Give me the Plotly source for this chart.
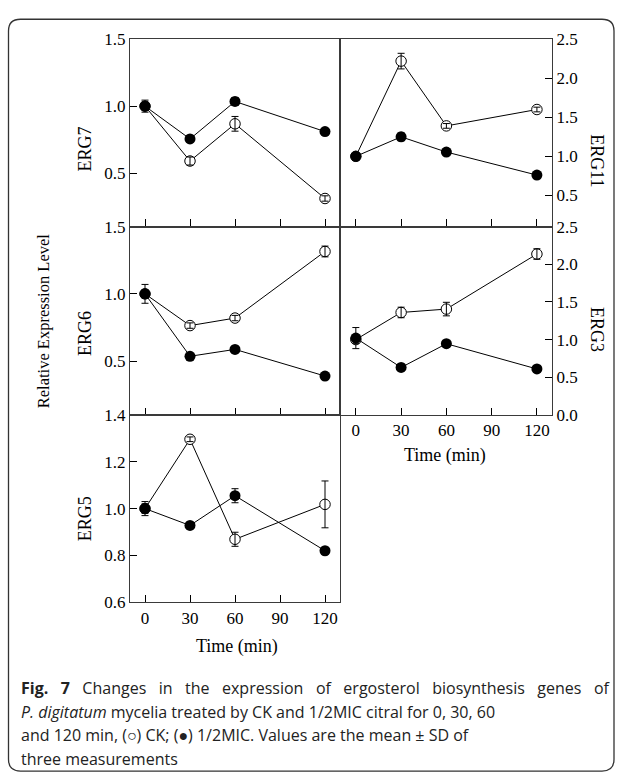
import plotly.graph_objects as go

W, H = 619, 784

time_min = [0, 30, 60, 120]
x_tickvals = [0, 30, 60, 90, 120]

# ERG7 (top-left)
erg7_ck = [1.00, 0.59, 0.868, 0.31]
erg7_ck_sd = [0.03, 0.03, 0.055, 0.02]
erg7_mic = [1.00, 0.755, 1.035, 0.81]
erg7_mic_sd = [0.045, 0.01, 0.03, 0.01]

# ERG11 (top-right)
erg11_ck = [1.00, 2.22, 1.39, 1.60]
erg11_ck_sd = [0.02, 0.10, 0.03, 0.03]
erg11_mic = [1.00, 1.25, 1.055, 0.76]
erg11_mic_sd = [0.02, 0.05, 0.02, 0.02]

# ERG6 (middle-left)
erg6_ck = [1.00, 0.764, 0.82, 1.315]
erg6_ck_sd = [0.03, 0.02, 0.02, 0.04]
erg6_mic = [1.00, 0.536, 0.587, 0.389]
erg6_mic_sd = [0.07, 0.02, 0.01, 0.01]

# ERG3 (middle-right)
erg3_ck = [1.00, 1.36, 1.405, 2.136]
erg3_ck_sd = [0.05, 0.07, 0.09, 0.07]
erg3_mic = [1.02, 0.63, 0.945, 0.61]
erg3_mic_sd = [0.14, 0.02, 0.02, 0.02]

# ERG5 (bottom-left)
erg5_ck = [1.00, 1.296, 0.869, 1.018]
erg5_ck_sd = [0.02, 0.01, 0.03, 0.10]
erg5_mic = [1.00, 0.928, 1.055, 0.82]
erg5_mic_sd = [0.03, 0.005, 0.03, 0.005]

gene_names = ["ERG7", "ERG11", "ERG6", "ERG3", "ERG5"]
erg7_ticks = [0.5, 1.0, 1.5]
erg11_ticks = [0.5, 1.0, 1.5, 2.0, 2.5]
erg6_ticks = [0.5, 1.0, 1.5]
erg3_ticks = [0.0, 0.5, 1.0, 1.5, 2.0, 2.5]
erg5_ticks = [0.6, 0.8, 1.0, 1.2, 1.4]

y_label = "Relative Expression Level"
x_label = "Time (min)"
SP = " \u00a0\u00a0"
caption_lines = [
    SP.join(["<b>Fig.", "7</b>", "Changes", "in", "the", "expression", "of",
             "ergosterol", "biosynthesis", "genes", "of"]),
    "<i>P. digitatum</i> mycelia treated by CK and 1/2MIC citral for 0, 30, 60",
    "and 120 min, (○) CK; (●) 1/2MIC. Values are the mean ± SD of",
    "three measurements",
]

def px(x):
    return x / W

def py(y):
    return 1 - y / H

LEFT = [px(130), px(340)]
RIGHT = [px(340), px(552)]
ROW1 = [py(223), py(31)]
ROW2 = [py(416), py(223)]
ROW3 = [py(608), py(416)]

FONT = "Liberation Serif"
fig = go.Figure()

panels = [
    ("x", "y", erg7_ck, erg7_ck_sd, erg7_mic, erg7_mic_sd),
    ("x2", "y2", erg11_ck, erg11_ck_sd, erg11_mic, erg11_mic_sd),
    ("x3", "y3", erg6_ck, erg6_ck_sd, erg6_mic, erg6_mic_sd),
    ("x4", "y4", erg3_ck, erg3_ck_sd, erg3_mic, erg3_mic_sd),
    ("x5", "y5", erg5_ck, erg5_ck_sd, erg5_mic, erg5_mic_sd),
]

for xa, ya, ck, cksd, mic, micsd in panels:
    # CK: open circles
    fig.add_trace(go.Scatter(
        x=time_min, y=ck, xaxis=xa, yaxis=ya, mode="lines+markers",
        line=dict(color="black", width=1),
        marker=dict(symbol="circle", size=10.5, color="white", line=dict(color="black", width=1)),
        showlegend=False, hoverinfo="skip"))
    # CK error bars drawn over the open markers
    fig.add_trace(go.Scatter(
        x=time_min, y=ck, xaxis=xa, yaxis=ya, mode="markers",
        marker=dict(size=1, color="rgba(0,0,0,0)"),
        error_y=dict(type="data", array=cksd, color="black", thickness=1, width=3.5),
        showlegend=False, hoverinfo="skip"))
    # 1/2MIC: filled circles
    fig.add_trace(go.Scatter(
        x=time_min, y=mic, xaxis=xa, yaxis=ya, mode="lines+markers",
        line=dict(color="black", width=1),
        marker=dict(symbol="circle", size=11, color="black", line=dict(color="black", width=0)),
        error_y=dict(type="data", array=micsd, color="black", thickness=1, width=3.5),
        showlegend=False, hoverinfo="skip"))

tickfont = dict(family=FONT, size=17, color="black")
LINE_C = "#3a3a3a"

def xax(domain, anchor, labels, rng):
    return dict(domain=domain, anchor=anchor, range=rng, tickvals=x_tickvals,
                ticktext=[str(v) for v in x_tickvals], showticklabels=labels,
                ticks="inside", ticklen=7, tickcolor="black", tickwidth=1,
                showline=True, linecolor=LINE_C, linewidth=1.2, mirror=True,
                showgrid=False, zeroline=False, tickfont=tickfont)

def yax(domain, anchor, ticks, rng, side="left"):
    return dict(domain=domain, anchor=anchor, range=rng, tickvals=ticks,
                ticktext=[f"{v:.1f}" for v in ticks], side=side,
                ticks="inside", ticklen=7, tickcolor="black", tickwidth=1,
                showline=True, linecolor=LINE_C, linewidth=1.2, mirror=True,
                showgrid=False, zeroline=False, tickfont=tickfont)

fig.update_layout(
    width=W, height=H, margin=dict(l=0, r=0, t=0, b=0),
    paper_bgcolor="white", plot_bgcolor="white",
    xaxis=xax(LEFT, "y", False, [-10, 130]),
    yaxis=yax(ROW1, "x", erg7_ticks, [0.1, 1.5]),
    xaxis2=xax(RIGHT, "y2", False, [-10.5, 130]),
    yaxis2=yax(ROW1, "x2", erg11_ticks, [0.1, 2.5], side="right"),
    xaxis3=xax(LEFT, "y3", False, [-10, 130]),
    yaxis3=yax(ROW2, "x3", erg6_ticks, [0.1, 1.5]),
    xaxis4=xax(RIGHT, "y4", True, [-10.5, 130]),
    yaxis4=yax(ROW2, "x4", erg3_ticks, [0.0, 2.5], side="right"),
    xaxis5=xax(LEFT, "y5", True, [-10, 130]),
    yaxis5=yax(ROW3, "x5", erg5_ticks, [0.6, 1.4]),
)

ann = []
labfont = dict(family=FONT, size=18, color="black")
for name, (xx, yy, ang) in zip(gene_names, [(85, 143, -90), (597, 155, 90), (85, 332, -90), (597, 328, 90), (85, 522, -90)]):
    ann.append(dict(text=name, x=px(xx), y=py(yy), xref="paper", yref="paper",
                    showarrow=False, textangle=ang, font=labfont, xanchor="center", yanchor="middle"))
ann.append(dict(text=y_label, x=px(43), y=py(320), xref="paper", yref="paper", showarrow=False,
                textangle=-90, xanchor="center", yanchor="middle",
                font=dict(family=FONT, size=16.5, color="black")))
ann.append(dict(text=x_label, x=px(445), y=py(458), xref="paper", yref="paper", showarrow=False,
                xanchor="center", yanchor="middle", font=labfont))
ann.append(dict(text=x_label, x=px(237), y=py(653), xref="paper", yref="paper", showarrow=False,
                xanchor="center", yanchor="middle", font=labfont))
for i, line in enumerate(caption_lines):
    ann.append(dict(text=line, x=px(19), y=py(696 + 24.2 * i), xref="paper", yref="paper",
                    showarrow=False, xanchor="left", yanchor="middle", align="left",
                    font=dict(family="Open Sans", size=16, color="#222")))
fig.update_layout(annotations=ann)

# rounded outer frame
x0, y0, x1, y1, r = 8.5, 10.5, 614, 781, 12
path = (f"M {px(x0)},{py(y0 + r)} Q {px(x0)},{py(y0)} {px(x0 + r)},{py(y0)} "
        f"L {px(x1 - r)},{py(y0)} Q {px(x1)},{py(y0)} {px(x1)},{py(y0 + r)} "
        f"L {px(x1)},{py(y1 - r)} Q {px(x1)},{py(y1)} {px(x1 - r)},{py(y1)} "
        f"L {px(x0 + r)},{py(y1)} Q {px(x0)},{py(y1)} {px(x0)},{py(y1 - r)} Z")
fig.add_shape(type="path", path=path, xref="paper", yref="paper",
              line=dict(color="#333", width=1.3), fillcolor="rgba(0,0,0,0)", layer="below")

fig.write_html("out.html", config={"displayModeBar": False},
               post_script="document.body.style.margin='0';")
